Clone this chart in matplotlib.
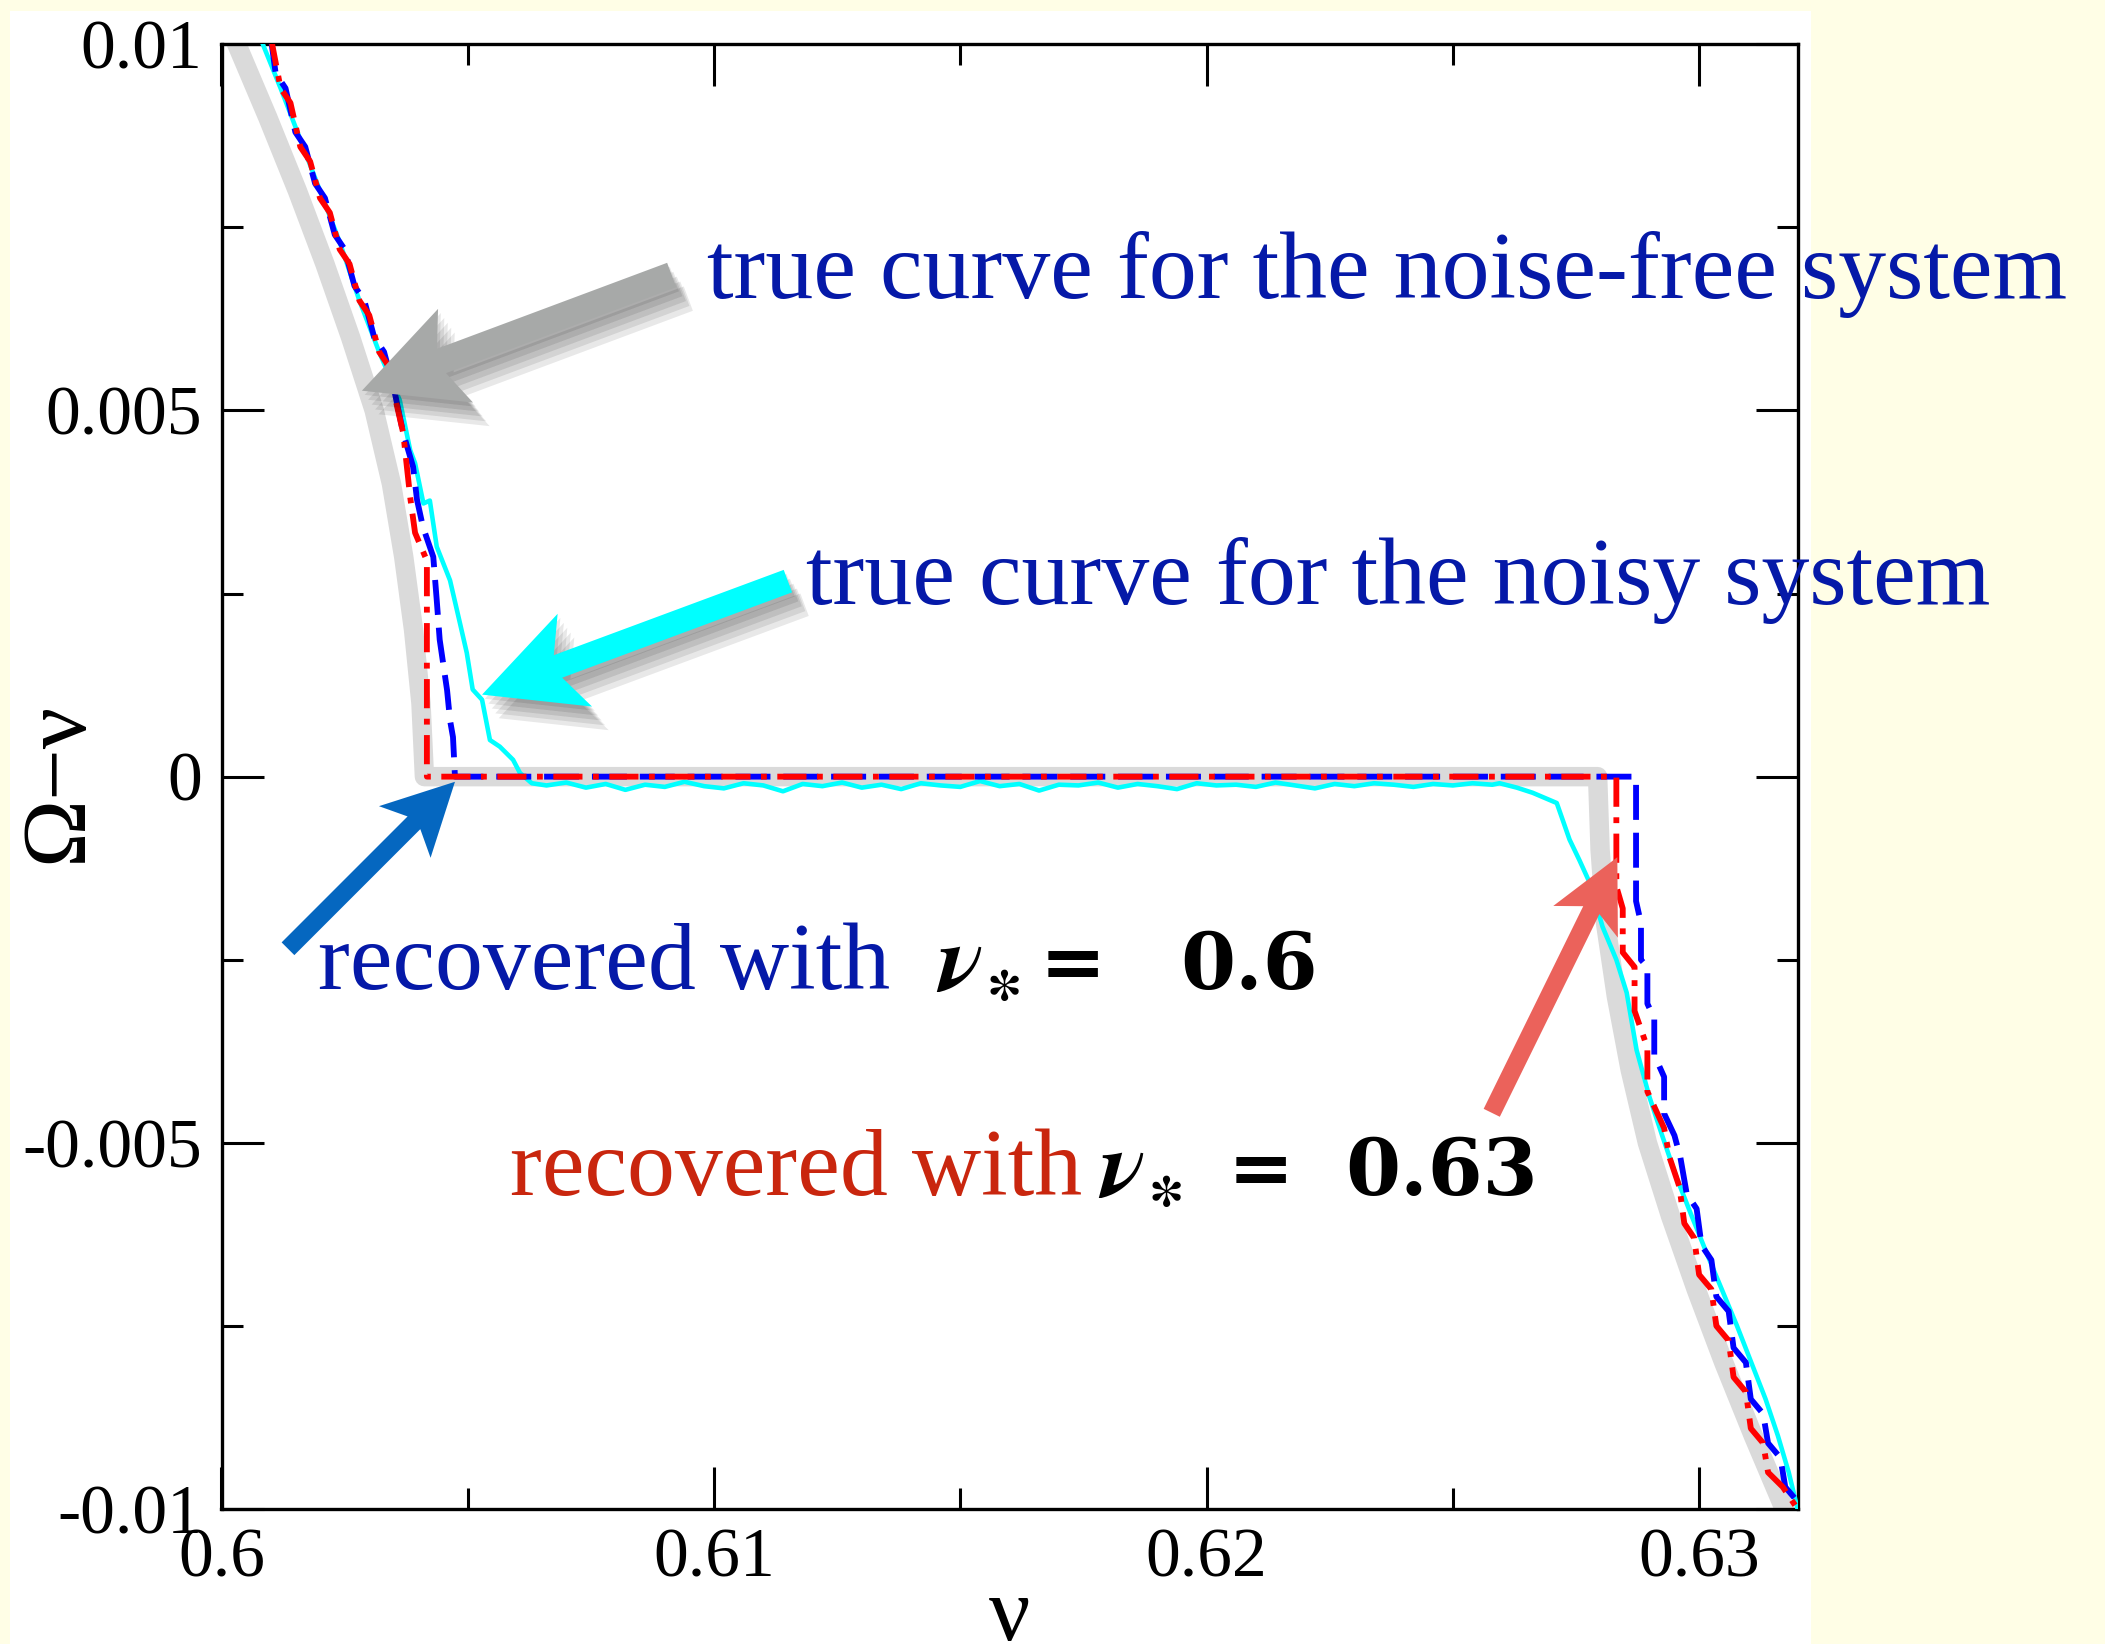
import numpy as np
import matplotlib
matplotlib.use("Agg")
import matplotlib.pyplot as plt
from matplotlib.patches import Polygon, Rectangle
from matplotlib import patheffects as pe
from matplotlib.transforms import IdentityTransform

plt.rcParams['font.family'] = ['Liberation Serif', 'DejaVu Serif']
plt.rcParams['mathtext.fontset'] = 'cm'
plt.rcParams['axes.unicode_minus'] = False

# ---- data ----
# noise-free true curve (thick light grey)
gray_nu = [0.60018, 0.60031, 0.60094, 0.60154, 0.6021, 0.60262, 0.6031, 0.60345, 0.6037, 0.6039, 0.60405, 0.60412,
           0.62794, 0.62799, 0.6281, 0.62832, 0.6286, 0.62895, 0.62942, 0.62994, 0.6305, 0.6311, 0.63173, 0.63186]
gray_val = [0.0102, 0.010, 0.009, 0.008, 0.007, 0.006, 0.005, 0.004, 0.003, 0.002, 0.001, 0.0,
            0.0, -0.001, -0.002, -0.003, -0.004, -0.005, -0.006, -0.007, -0.008, -0.009, -0.010, -0.0102]

# noisy system true curve (cyan)
cyan_left_nu = [0.60072, 0.6012, 0.6016, 0.6020, 0.6024, 0.6028, 0.6032, 0.60362, 0.60383, 0.60393, 0.6041,
                0.60423, 0.60437, 0.60464, 0.60484, 0.60498, 0.6051, 0.60529, 0.60545, 0.60565, 0.60592,
                0.60606, 0.6063]
cyan_left_val = [0.0102, 0.0094, 0.0087, 0.0080, 0.0073, 0.0065, 0.0058, 0.00514, 0.00446, 0.00428, 0.00373,
                 0.00377, 0.00314, 0.00268, 0.0021, 0.00169, 0.00119, 0.00105, 0.0005, 0.00041, 0.00023,
                 0.00005, -0.00009]
cyan_flat_nu = [0.6066, 0.6070, 0.6074, 0.6078, 0.6082, 0.6086, 0.6090, 0.6094, 0.6098, 0.6102,
                0.6106, 0.6110, 0.6114, 0.6118, 0.6122, 0.6126, 0.6130, 0.6134, 0.6138, 0.6142,
                0.6146, 0.6150, 0.6154, 0.6158, 0.6162, 0.6166, 0.6170, 0.6174, 0.6178, 0.6182,
                0.6186, 0.6190, 0.6194, 0.6198, 0.6202, 0.6206, 0.6210, 0.6214, 0.6218, 0.6222,
                0.6226, 0.6230, 0.6234, 0.6238, 0.6242, 0.6246, 0.6250, 0.6254, 0.6258]
cyan_flat_val = [-0.00012, -0.00008, -0.00015, -0.00010, -0.00018, -0.00011, -0.00014, -0.00007, -0.00013, -0.00016,
                 -0.00009, -0.00012, -0.00020, -0.00010, -0.00013, -0.00008, -0.00015, -0.00011, -0.00017, -0.00009,
                 -0.00012, -0.00014, -0.00006, -0.00013, -0.00010, -0.00019, -0.00011, -0.00012, -0.00008, -0.00015,
                 -0.00010, -0.00013, -0.00017, -0.00009, -0.00012, -0.00011, -0.00014, -0.00008, -0.00012, -0.00016,
                 -0.00010, -0.00013, -0.00009, -0.00011, -0.00014, -0.00010, -0.00012, -0.00009, -0.00011]
cyan_right_nu = [0.62595, 0.6263, 0.62662, 0.62711, 0.62723, 0.62737, 0.62757, 0.62778, 0.62804, 0.62832,
                 0.62853, 0.62873, 0.62899, 0.62926, 0.62954, 0.62985, 0.63015, 0.63046, 0.63077, 0.63106,
                 0.63135, 0.6316, 0.63182, 0.632]
cyan_right_val = [-0.00009, -0.00015, -0.00022, -0.00036, -0.00059, -0.00086, -0.00114, -0.00145, -0.00205, -0.0025,
                  -0.00295, -0.00373, -0.00437, -0.00492, -0.00547, -0.0060, -0.0065, -0.0070, -0.0075, -0.0080,
                  -0.0085, -0.0090, -0.0095, -0.0100]

# recovered with nu* = 0.6 (blue dashed)
blue_nu = [0.6010, 0.6011, 0.6013, 0.6015, 0.6017, 0.6019, 0.6021, 0.6023, 0.6025, 0.6027, 0.6029, 0.6031, 0.6033,
           0.6035, 0.60369, 0.60389, 0.60397, 0.60409, 0.6043, 0.60437, 0.60443, 0.60458, 0.60464, 0.6047, 0.60474,
           0.62872, 0.62872, 0.62882, 0.62882, 0.62895, 0.62895, 0.62909, 0.62909, 0.62929, 0.62929,
           0.6295, 0.62962, 0.62975, 0.62995, 0.63005, 0.63025, 0.63035, 0.6306, 0.6307, 0.63095,
           0.63105, 0.6313, 0.6314, 0.63165, 0.63175, 0.632]
blue_val = [0.0101, 0.0096, 0.0094, 0.0088, 0.0086, 0.0081, 0.0079, 0.0074, 0.0072, 0.0067, 0.0065, 0.0060, 0.0058,
            0.0053, 0.00469, 0.00423, 0.00378, 0.00341, 0.0030, 0.00241, 0.00187, 0.00118, 0.00077, 0.00054, 0.0,
            0.0, -0.0017, -0.0020, -0.0025, -0.0026, -0.0031, -0.0033, -0.0038, -0.0041, -0.0046,
            -0.0049, -0.0052, -0.0057, -0.0059, -0.0064, -0.0066, -0.0071, -0.0073, -0.0078, -0.0080,
            -0.0085, -0.0087, -0.0091, -0.0093, -0.0097, -0.0099]

# recovered with nu* = 0.63 (red dash-dot)
red_nu = [0.6010, 0.6012, 0.6014, 0.6016, 0.6018, 0.6020, 0.6022, 0.6024, 0.6026, 0.6028, 0.6030, 0.6032, 0.6034,
          0.60355, 0.60369, 0.60383, 0.60393, 0.60417, 0.60417,
          0.62832, 0.62832, 0.62845, 0.62845, 0.62869, 0.62869, 0.62895, 0.62895, 0.62929, 0.6294,
          0.6296, 0.6297, 0.6299, 0.6300, 0.63025, 0.63035, 0.6306, 0.6307, 0.63095, 0.63105,
          0.6313, 0.6314, 0.6317, 0.632]
red_val = [0.0101, 0.0094, 0.0092, 0.0086, 0.0084, 0.0079, 0.0077, 0.0072, 0.0070, 0.0065, 0.0063, 0.0058, 0.0056,
           0.0051, 0.00469, 0.00382, 0.00333, 0.00295, 0.0,
           0.0, -0.0015, -0.0018, -0.0024, -0.0026, -0.0032, -0.0037, -0.0043, -0.0048, -0.0052,
           -0.0056, -0.0061, -0.0063, -0.0068, -0.0070, -0.0075, -0.0077, -0.0082, -0.0084, -0.0089,
           -0.0091, -0.0095, -0.0097, -0.0100]

xticks = [0.60, 0.61, 0.62, 0.63]
xtick_labels = ['0.6', '0.61', '0.62', '0.63']
xminor = [0.605, 0.615, 0.625]
yticks = [-0.01, -0.005, 0.0, 0.005, 0.01]
ytick_labels = ['-0.01', '-0.005', '0', '0.005', '0.01']
yminor = [-0.0075, -0.0025, 0.0025, 0.0075]

# ---- figure ----
W, H = 2105, 1644
fig = plt.figure(figsize=(W / 100, H / 100), dpi=100, facecolor='#FFFEE6')
fig.add_artist(Rectangle((10 / W, 0), 1801 / W, (H - 11) / H, transform=fig.transFigure,
                         facecolor='white', edgecolor='none', zorder=-5))
ax = fig.add_axes([221.5 / W, 135 / H, 1576.1 / W, 1464.7 / H])
ax.set_facecolor('white')

ax.plot(gray_nu, gray_val, color='#DADADA', lw=14, solid_joinstyle='round', zorder=2)
ax.plot(cyan_left_nu + cyan_flat_nu + cyan_right_nu, cyan_left_val + cyan_flat_val + cyan_right_val,
        color='#00FFFF', lw=3.3, zorder=3)
ax.plot(blue_nu, blue_val, color='#0000FF', lw=4.2, ls=(0, (6, 2.2)), zorder=4)
ax.plot(red_nu, red_val, color='#FF0000', lw=4.2, ls=(0, (5, 1.8, 1, 1.8)), zorder=5)

ax.set_xlim(0.6, 0.632)
ax.set_ylim(-0.01, 0.01)
ax.set_xticks(xticks, xtick_labels)
ax.set_xticks(xminor, minor=True)
ax.set_yticks(yticks, ytick_labels)
ax.set_yticks(yminor, minor=True)
ax.tick_params(which='both', direction='in', top=True, right=True, width=2.2, labelsize=50, pad=14)
ax.tick_params(which='major', length=30)
ax.tick_params(which='minor', length=15)
for s in ax.spines.values():
    s.set_linewidth(2.4)

ax.set_xlabel('ν', fontsize=66)
ax.xaxis.set_label_coords(0.5, -0.046)
ax.set_ylabel('Ω−ν', fontsize=66)
ax.yaxis.set_label_coords(-0.077, 0.496)

# ---- annotations ----
txt_blue = '#0519A8'
txt_red = '#C9260E'
fs = 69
fig.text(707 / W, 1 - 298 / H, 'true curve for the noise-free system', color=txt_blue, fontsize=fs, va='baseline')
fig.text(806 / W, 1 - 604 / H, 'true curve for the noisy system', color=txt_blue, fontsize=fs, va='baseline')
fig.text(318 / W, 1 - 989 / H, 'recovered with', color=txt_blue, fontsize=fs, va='baseline')
fig.text(510 / W, 1 - 1195 / H, 'recovered with', color=txt_red, fontsize=fs, va='baseline')

# bold nu_* = value, placed piece by piece
for (x_nu, x_eq, x_val, y_base, val) in [(936, 1040, 1180, 989, '0.6'), (1098, 1228, 1345, 1195, '0.63')]:
    fig.text(x_nu / W, 1 - y_base / H, r'$\boldsymbol{\nu}_{\boldsymbol{\ast}}$', color='black',
             fontsize=fs, va='baseline', math_fontfamily='stix')
    fig.text(x_eq / W, 1 - y_base / H, '=', color='black', fontsize=57, va='baseline',
             family='DejaVu Serif', weight='bold')
    fig.text(x_val / W, 1 - y_base / H, val, color='black', fontsize=57, va='baseline',
             family='DejaVu Serif', weight='bold')


def notched_arrow(tail, tip, shaft, head_len, head_w, notch, color, shadow=False):
    t = ax.transData.transform(tail)
    p = ax.transData.transform(tip)
    u = (p - t) / np.hypot(*(p - t))
    v = np.array([-u[1], u[0]])
    pts = [p,
           p - u * head_len + v * head_w / 2,
           p - u * (head_len - notch) + v * shaft / 2,
           t + v * shaft / 2,
           t - v * shaft / 2,
           p - u * (head_len - notch) - v * shaft / 2,
           p - u * head_len - v * head_w / 2]
    poly = Polygon(pts, closed=True, transform=IdentityTransform(), facecolor=color,
                   edgecolor='none', zorder=10)
    if shadow:
        # stacked soft shadows to mimic a blurred drop shadow
        effects = [pe.SimplePatchShadow(offset=(2 + 2.5 * k, -3 - 3.5 * k), shadow_rgbFace='black', alpha=0.09)
                   for k in range(5)]
        poly.set_path_effects(effects + [pe.Normal()])
    fig.add_artist(poly)


notched_arrow((0.60914, 0.00685), (0.60285, 0.00527), 26, 100, 100, 15, '#A7A9A8', shadow=True)
notched_arrow((0.6115, 0.00267), (0.60529, 0.00112), 24, 99, 99, 18, '#00FFFF', shadow=True)
notched_arrow((0.60135, -0.00235), (0.60474, -0.00007), 18, 71, 73, 13, '#0567C0')
notched_arrow((0.62579, -0.00459), (0.62834, -0.0011), 18, 72, 72, 13, '#EB625B')

fig.savefig('out.png', dpi=100, facecolor=fig.get_facecolor())
